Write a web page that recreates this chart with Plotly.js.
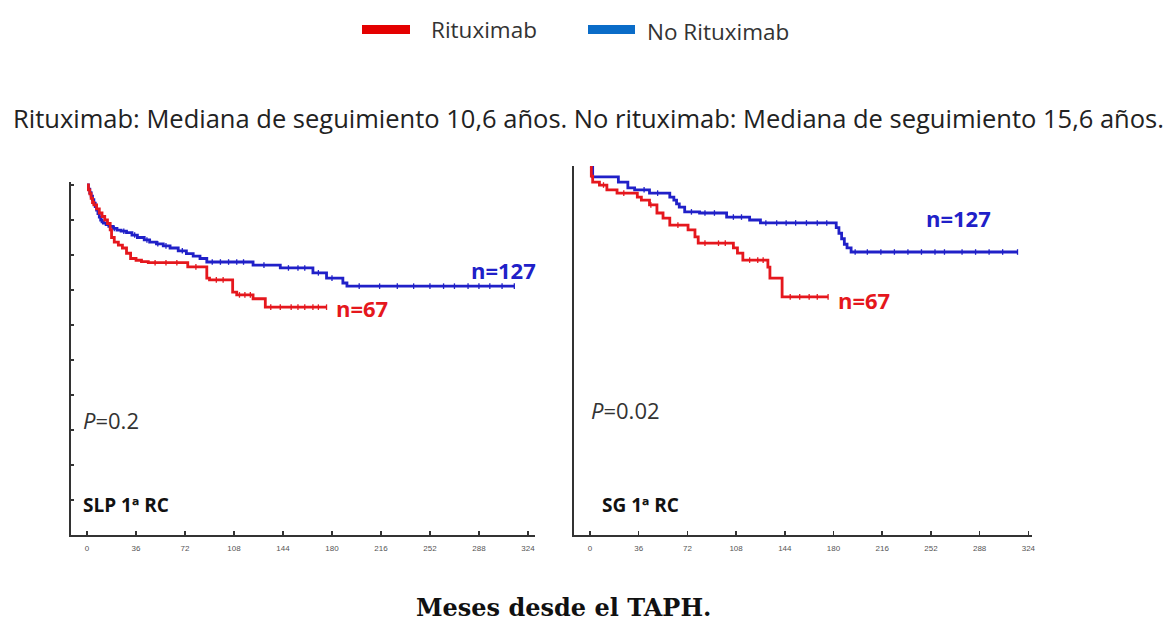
<!DOCTYPE html>
<html>
<head>
<meta charset="utf-8">
<script src="https://cdn.plot.ly/plotly-3.0.1.min.js"></script>
<style>
  html, body { margin: 0; padding: 0; background: #fff; }
  #chart { width: 1173px; height: 624px; }
</style>
</head>
<body>
<div id="chart"></div>
<script>
// Kaplan-Meier step curves (months since transplant, survival fraction)
// SLP 1ª RC
const slpNoRtxT = [0,1,2,3,4,5,6,7,8,9,10,11,12,14,16,19,22,25,29,33,37,42,46,51,56,61,67,73,78,83,88,122,142,166,176,188,191,314];
const slpNoRtxS = [1,0.988,0.978,0.968,0.958,0.948,0.938,0.928,0.918,0.908,0.9,0.895,0.891,0.887,0.882,0.876,0.871,0.868,0.864,0.857,0.85,0.843,0.837,0.832,0.826,0.82,0.812,0.804,0.797,0.79,0.78,0.771,0.763,0.749,0.734,0.72,0.711,0.711];
const slpRtxT = [0,1,2,3,4,5,7,9,11,13,15,17,18,20,23,26,29,32,36,40,45,74,88,90,107,110,122,131,176];
const slpRtxS = [1,0.986,0.975,0.962,0.95,0.943,0.932,0.92,0.91,0.9,0.89,0.872,0.85,0.837,0.828,0.82,0.805,0.79,0.785,0.781,0.778,0.766,0.734,0.729,0.694,0.686,0.675,0.651,0.651];
// SG 1ª RC
const sgNoRtxT = [0,2,21,28,33,44,59,62,64,66,70,81,101,118,126,182,184,186,188,190,193,316];
const sgNoRtxS = [1,0.973,0.959,0.943,0.938,0.929,0.918,0.91,0.9,0.891,0.878,0.875,0.864,0.856,0.848,0.835,0.82,0.805,0.79,0.78,0.769,0.769];
const sgRtxT = [0,1,2,7,12.5,20,35,38,44,49.5,54,59,72.5,77.6,80,106,109,113,131.5,133,142,176];
const sgRtxS = [1,0.975,0.959,0.951,0.938,0.929,0.918,0.91,0.897,0.875,0.861,0.842,0.829,0.81,0.793,0.78,0.766,0.747,0.728,0.698,0.647,0.647];

// Censored observations (months)
const slpNoRtxCens = [20,27,35,44,52,58,70,92,98,104,110,115,130,148,155,160,170,180,200,215,228,240,252,262,270,280,288,296,305,314];
const slpRtxCens = [50,58,66,80,95,100,112,116,120,135,142,150,155,160,166,170,176];
const sgNoRtxCens = [40,50,75,85,92,106,112,130,138,145,152,160,168,175,196,205,215,225,235,245,255,262,275,285,295,305,316];
const sgRtxCens = [10,25,45,65,85,95,100,118,124,128,148,155,162,168,176];

const xTicks = [0,36,72,108,144,180,216,252,288,324];
const yTicks = [0,0.1,0.2,0.3,0.4,0.5,0.6,0.7,0.8,0.9,1.0];

const RED = '#e5171d';
const BLUE = '#2020c8';

function stepValue(ts, ss, t) {
  let v = ss[0];
  for (let i = 0; i < ts.length; i++) { if (ts[i] <= t) v = ss[i]; }
  return v;
}

function curve(ts, ss, color, xa, ya) {
  return { x: ts, y: ss, xaxis: xa, yaxis: ya, type: 'scatter', mode: 'lines',
    line: { shape: 'hv', color: color, width: 2.8 }, showlegend: false, hoverinfo: 'skip' };
}
function censors(cs, ts, ss, color, xa, ya) {
  return { x: cs, y: cs.map(c => stepValue(ts, ss, c)), xaxis: xa, yaxis: ya, type: 'scatter', mode: 'markers',
    marker: { symbol: 'line-ns', size: 4, color: color, line: { color: color, width: 1.3 } },
    showlegend: false, hoverinfo: 'skip' };
}

const data = [
  curve(slpNoRtxT, slpNoRtxS, BLUE, 'x', 'y'),
  censors(slpNoRtxCens, slpNoRtxT, slpNoRtxS, BLUE, 'x', 'y'),
  curve(slpRtxT, slpRtxS, RED, 'x', 'y'),
  censors(slpRtxCens, slpRtxT, slpRtxS, RED, 'x', 'y'),
  curve(sgNoRtxT, sgNoRtxS, BLUE, 'x2', 'y2'),
  censors(sgNoRtxCens, sgNoRtxT, sgNoRtxS, BLUE, 'x2', 'y2'),
  curve(sgRtxT, sgRtxS, RED, 'x2', 'y2'),
  censors(sgRtxCens, sgRtxT, sgRtxS, RED, 'x2', 'y2')
];

const W = 1173, H = 624;
const px = v => v / W;
const py = v => 1 - v / H;

const axisX = (domain, range) => ({
  domain: domain, range: range, showgrid: false, zeroline: false,
  showline: true, linecolor: '#333', linewidth: 2,
  tickmode: 'array', tickvals: xTicks, ticktext: xTicks.map(String),
  ticks: 'inside', ticklen: 4, tickwidth: 1.5, tickcolor: '#333',
  tickfont: { family: 'Liberation Sans, Arial, sans-serif', size: 8, color: '#555' },
  ticklabelstandoff: 4, fixedrange: true
});

const layout = {
  width: W, height: H,
  margin: { l: 0, r: 0, t: 0, b: 0 },
  paper_bgcolor: '#fff', plot_bgcolor: '#fff',
  showlegend: false,
  xaxis: axisX([px(71), px(535)], [-11.8, 329.2]),
  yaxis: { domain: [py(535), py(182)], range: [0, 1.0086], showgrid: false, zeroline: false,
    showline: true, linecolor: '#333', linewidth: 2, tickmode: 'array', tickvals: yTicks,
    showticklabels: false, ticks: 'inside', ticklen: 3, tickwidth: 1.5, tickcolor: '#333', fixedrange: true },
  xaxis2: Object.assign(axisX([px(574), px(1032)], [-11.8, 326.7]), { anchor: 'y2' }),
  yaxis2: { domain: [py(535), py(166)], range: [0, 1.0027], anchor: 'x2', showgrid: false, zeroline: false,
    showline: true, linecolor: '#333', linewidth: 2, showticklabels: false, ticks: '', fixedrange: true },
  shapes: [
    { type: 'rect', xref: 'paper', yref: 'paper', x0: px(362), x1: px(410), y0: py(34), y1: py(25),
      fillcolor: '#e40000', line: { width: 0 } },
    { type: 'rect', xref: 'paper', yref: 'paper', x0: px(588), x1: px(635), y0: py(34), y1: py(25),
      fillcolor: '#0a6cc8', line: { width: 0 } }
  ],
  annotations: [
    { text: 'Rituximab', x: px(429), y: py(29), xanchor: 'left', yanchor: 'middle',
      font: { family: 'Open Sans, sans-serif', size: 22.5, color: '#333' } },
    { text: 'No Rituximab', x: px(645), y: py(31), xanchor: 'left', yanchor: 'middle',
      font: { family: 'Open Sans, sans-serif', size: 22.5, color: '#333' } },
    { text: 'Rituximab: Mediana de seguimiento 10,6 años. No rituximab: Mediana de seguimiento 15,6 años.',
      x: px(588), y: py(118), xanchor: 'center', yanchor: 'middle',
      font: { family: 'Open Sans, sans-serif', size: 25.5, color: '#222' } },
    { text: '<b>n=127</b>', x: px(503), y: py(270), xanchor: 'center', yanchor: 'middle',
      font: { family: 'Open Sans, sans-serif', size: 22, color: BLUE } },
    { text: '<b>n=67</b>', x: px(362), y: py(308), xanchor: 'center', yanchor: 'middle',
      font: { family: 'Open Sans, sans-serif', size: 22, color: RED } },
    { text: '<b>n=127</b>', x: px(958), y: py(218), xanchor: 'center', yanchor: 'middle',
      font: { family: 'Open Sans, sans-serif', size: 22, color: BLUE } },
    { text: '<b>n=67</b>', x: px(864), y: py(300), xanchor: 'center', yanchor: 'middle',
      font: { family: 'Open Sans, sans-serif', size: 22, color: RED } },
    { text: '<i>P</i>=0.2', x: px(81), y: py(420), xanchor: 'left', yanchor: 'middle',
      font: { family: 'Open Sans, sans-serif', size: 22, color: '#333' } },
    { text: '<i>P</i>=0.02', x: px(589), y: py(410), xanchor: 'left', yanchor: 'middle',
      font: { family: 'Open Sans, sans-serif', size: 22, color: '#333' } },
    { text: '<b>SLP 1ª RC</b>', x: px(81), y: py(505), xanchor: 'left', yanchor: 'middle',
      font: { family: 'Open Sans, sans-serif', size: 19, color: '#111' } },
    { text: '<b>SG 1ª RC</b>', x: px(600), y: py(505), xanchor: 'left', yanchor: 'middle',
      font: { family: 'Open Sans, sans-serif', size: 19, color: '#111' } },
    { text: '<b>Meses desde el TAPH.</b>', x: px(563), y: py(607), xanchor: 'center', yanchor: 'middle',
      font: { family: 'DejaVu Serif, serif', size: 24, color: '#111' } }
  ].map(a => Object.assign({ xref: 'paper', yref: 'paper', showarrow: false }, a))
};

Plotly.newPlot('chart', data, layout, { staticPlot: true, displayModeBar: false });
</script>
</body>
</html>
